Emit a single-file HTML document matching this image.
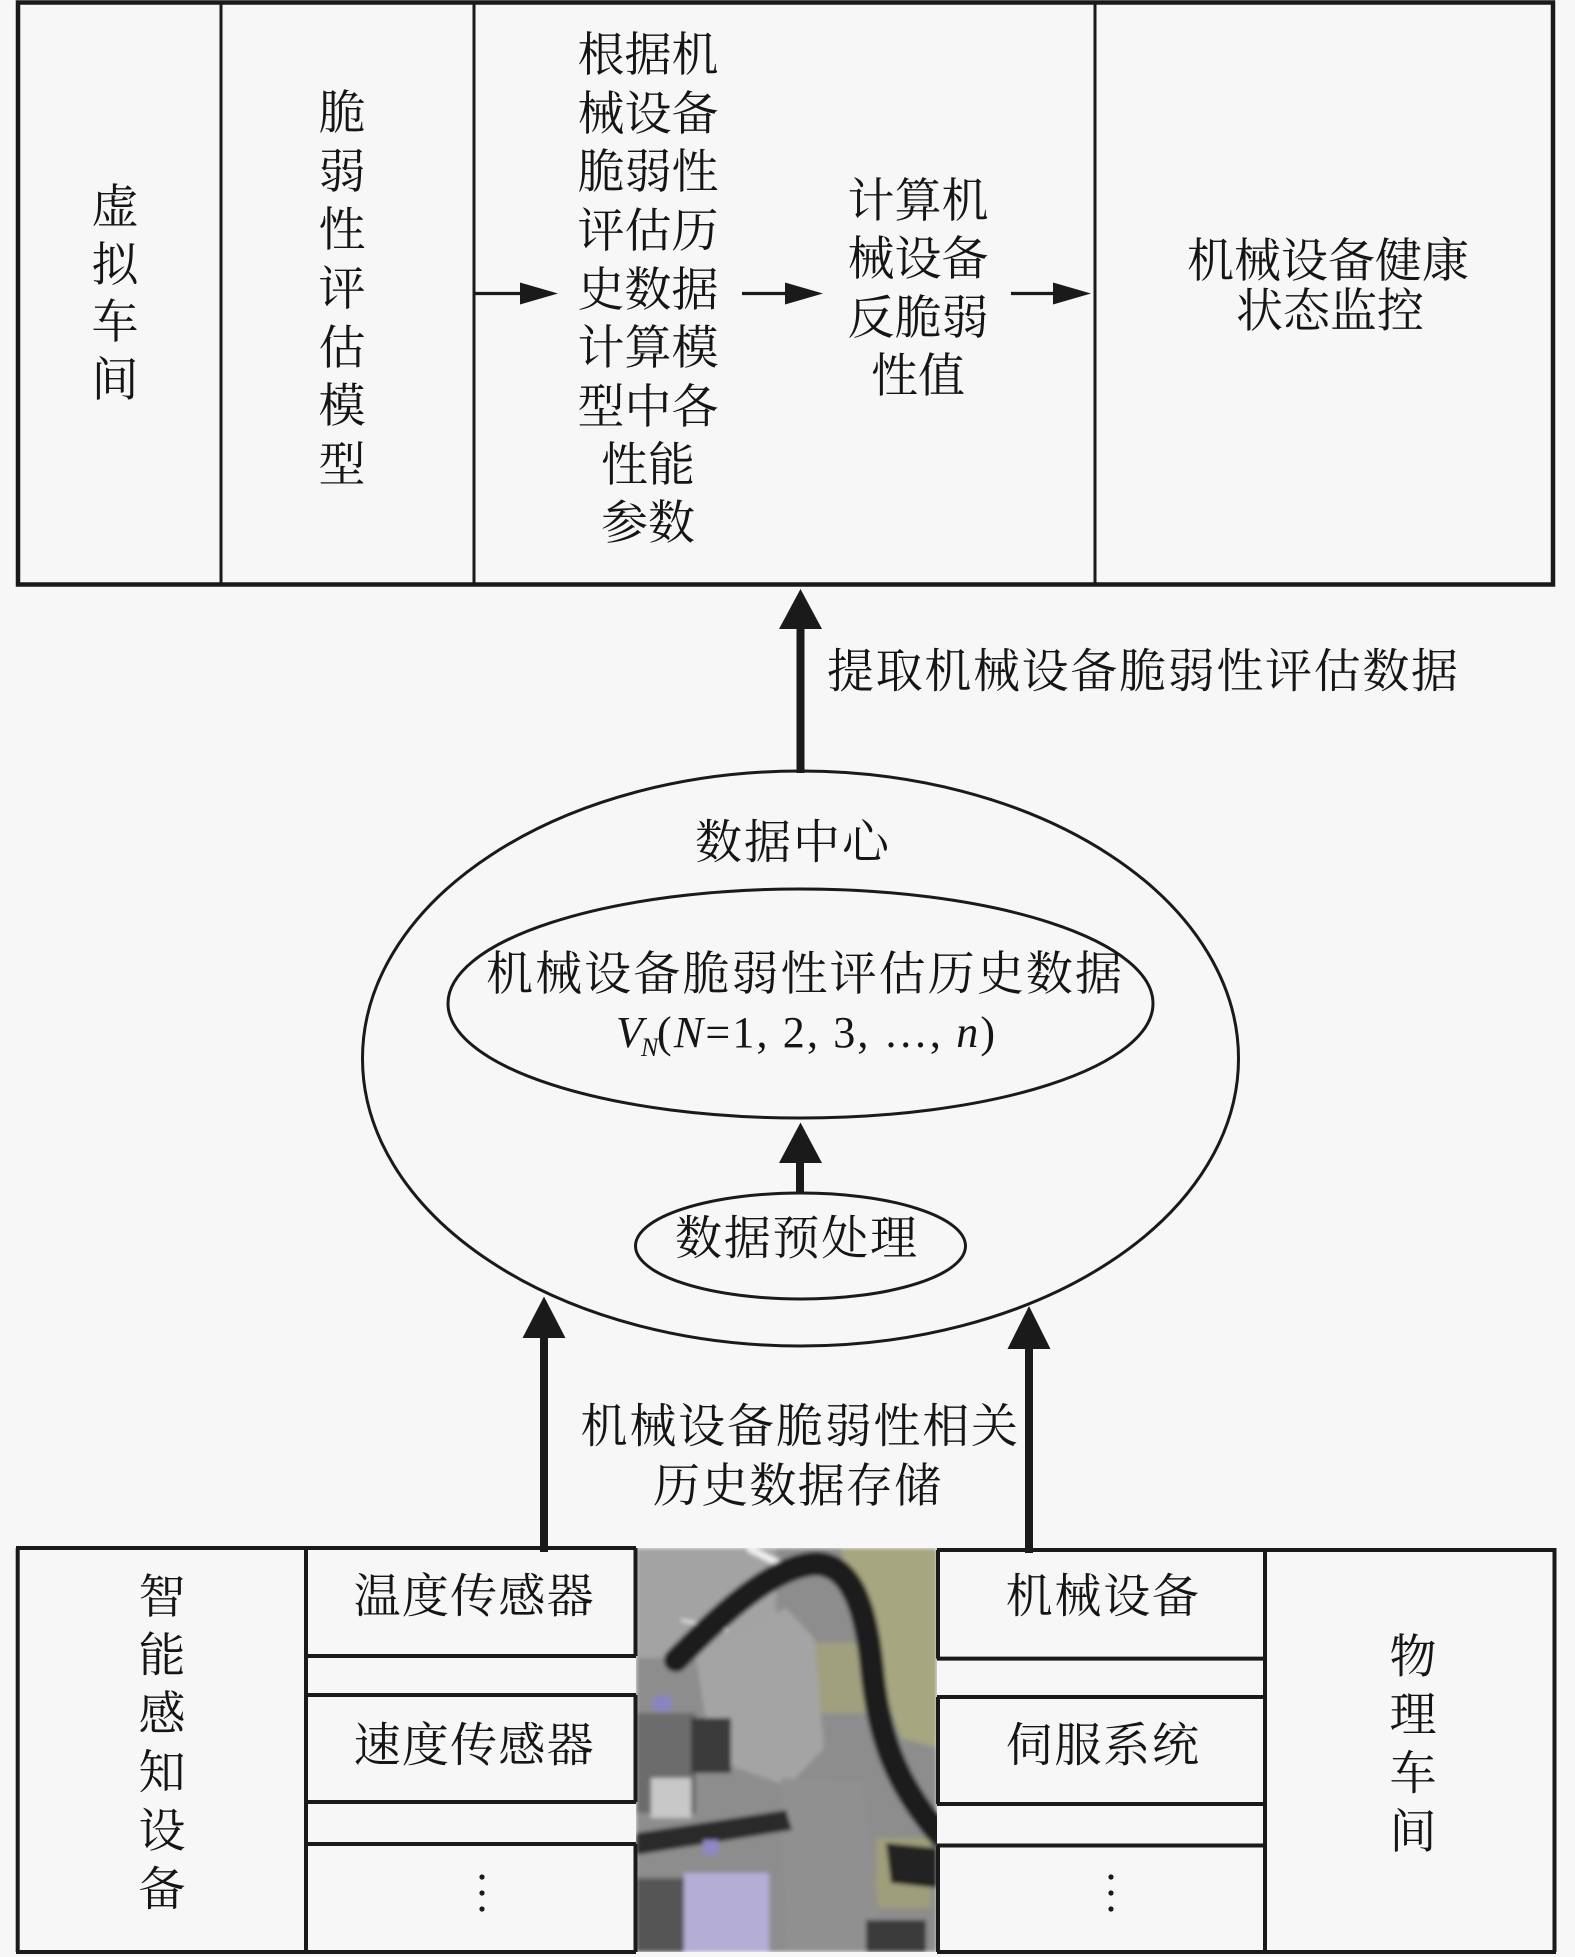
<!DOCTYPE html>
<html>
<head>
<meta charset="utf-8">
<style>
html,body{margin:0;padding:0;background:#f7f7f7;}
body{width:1575px;height:1957px;overflow:hidden;}
svg{display:block;}
.t{font-family:"Liberation Serif","Noto Serif CJK SC",serif;font-size:47px;fill:#151515;}
.m{text-anchor:middle;}
.r{font-family:"Liberation Serif",serif;font-size:44px;fill:#151515;}
.i{font-style:italic;}
</style>
</head>
<body>
<svg width="1575" height="1957" viewBox="0 0 1575 1957" xmlns="http://www.w3.org/2000/svg">
<defs>
<clipPath id="pc"><rect x="0" y="0" width="301" height="404"/></clipPath>
<filter id="bl" x="-5%" y="-5%" width="110%" height="110%"><feGaussianBlur stdDeviation="2.2"/></filter>
</defs>

<!-- ===== TOP BOX ===== -->
<rect x="18" y="2.5" width="1535" height="582" fill="none" stroke="#1a1a1a" stroke-width="4.5"/>
<line x1="221" y1="2" x2="221" y2="585" stroke="#1a1a1a" stroke-width="3"/>
<line x1="474" y1="2" x2="474" y2="585" stroke="#1a1a1a" stroke-width="3"/>
<line x1="1095" y1="2" x2="1095" y2="585" stroke="#1a1a1a" stroke-width="3"/>

<!-- thin arrows -->
<g stroke="#1a1a1a" stroke-width="3.2" fill="#1a1a1a">
<line x1="474" y1="293.5" x2="522" y2="293.5"/>
<polygon points="520,282.5 558,293.5 520,304.5" stroke="none"/>
<line x1="742" y1="293.5" x2="787" y2="293.5"/>
<polygon points="785,282.5 823,293.5 785,304.5" stroke="none"/>
<line x1="1011" y1="293.5" x2="1055" y2="293.5"/>
<polygon points="1053,282.5 1091,293.5 1053,304.5" stroke="none"/>
</g>

<!-- column 1 -->
<text class="t m" x="115" y="223">虚</text>
<text class="t m" x="115" y="281">拟</text>
<text class="t m" x="115" y="338">车</text>
<text class="t m" x="115" y="396">间</text>

<!-- column 2 -->
<text class="t m" x="342" y="129">脆</text>
<text class="t m" x="342" y="188">弱</text>
<text class="t m" x="342" y="246">性</text>
<text class="t m" x="342" y="305">评</text>
<text class="t m" x="342" y="364">估</text>
<text class="t m" x="342" y="422">模</text>
<text class="t m" x="342" y="481">型</text>

<!-- column 3 -->
<text class="t m" x="648" y="71">根据机</text>
<text class="t m" x="648" y="130">械设备</text>
<text class="t m" x="648" y="188">脆弱性</text>
<text class="t m" x="648" y="247">评估历</text>
<text class="t m" x="648" y="306">史数据</text>
<text class="t m" x="648" y="364">计算模</text>
<text class="t m" x="648" y="423">型中各</text>
<text class="t m" x="648" y="481">性能</text>
<text class="t m" x="648" y="539">参数</text>

<!-- column 4 -->
<text class="t m" x="918" y="217">计算机</text>
<text class="t m" x="918" y="275">械设备</text>
<text class="t m" x="918" y="334">反脆弱</text>
<text class="t m" x="918" y="392">性值</text>

<!-- column 5 -->
<text class="t m" x="1328" y="277">机械设备健康</text>
<text class="t m" x="1330" y="327">状态监控</text>

<!-- ===== MIDDLE ===== -->
<rect x="796.5" y="625" width="8" height="148" fill="#1a1a1a"/>
<polygon points="779,629 800.5,589 822,629" fill="#1a1a1a"/>
<text class="t" x="827" y="687.5" textLength="631" lengthAdjust="spacing">提取机械设备脆弱性评估数据</text>

<ellipse cx="800.5" cy="1058.5" rx="438" ry="287.5" fill="none" stroke="#1a1a1a" stroke-width="3"/>
<ellipse cx="800.5" cy="1003.5" rx="352.5" ry="114.5" fill="none" stroke="#1a1a1a" stroke-width="3"/>
<ellipse cx="800.5" cy="1246" rx="165" ry="53" fill="none" stroke="#1a1a1a" stroke-width="3"/>

<text class="t" x="695" y="858.5" textLength="194" lengthAdjust="spacing">数据中心</text>
<text class="t" x="486" y="990" textLength="636" lengthAdjust="spacing">机械设备脆弱性评估历史数据</text>

<!-- V_N line -->
<text class="r i" x="616" y="1047">V</text>
<text class="r i" x="641" y="1056" style="font-size:26px">N</text>
<text class="r" x="657" y="1047" textLength="338" lengthAdjust="spacing">(<tspan class="i">N</tspan>=1, 2, 3, …, <tspan class="i">n</tspan>)</text>

<rect x="796" y="1158" width="8" height="36" fill="#1a1a1a"/>
<polygon points="779,1163 800.5,1122.5 822,1163" fill="#1a1a1a"/>
<text class="t" x="675" y="1254.5" textLength="242" lengthAdjust="spacing">数据预处理</text>

<rect x="540" y="1334" width="8" height="218" fill="#1a1a1a"/>
<polygon points="522.5,1338 544,1296.5 565.5,1338" fill="#1a1a1a"/>
<rect x="1025" y="1345" width="8" height="208" fill="#1a1a1a"/>
<polygon points="1007.5,1349 1029,1306 1050.5,1349" fill="#1a1a1a"/>

<text class="t" x="580.5" y="1442.5" textLength="437.5" lengthAdjust="spacing">机械设备脆弱性相关</text>
<text class="t" x="653" y="1502" textLength="288" lengthAdjust="spacing">历史数据存储</text>

<!-- ===== BOTTOM ===== -->
<g transform="translate(636,1548)" clip-path="url(#pc)">
<g filter="url(#bl)">
<rect x="0" y="0" width="301" height="404" fill="#8d8d8d"/>
<rect x="0" y="0" width="140" height="110" fill="#a3a3a3"/>
<polygon points="205,0 301,0 301,200 265,190 240,120 215,60" fill="#a6a680"/>
<rect x="150" y="95" width="80" height="70" fill="#a3a37d" opacity="0.85"/>
<rect x="240" y="290" width="55" height="70" fill="#9e9e7a"/>
<line x1="112" y1="0" x2="152" y2="20" stroke="#efefef" stroke-width="7"/>
<line x1="45" y1="72" x2="92" y2="82" stroke="#dcdcdc" stroke-width="3"/>
<polygon points="60,110 150,60 178,90 188,200 152,238 95,218 70,172" fill="#a4a4a4"/>
<polygon points="145,230 226,235 248,404 150,404" fill="#909090"/>
<rect x="0" y="165" width="60" height="100" fill="#6c6c6c"/>
<rect x="55" y="170" width="40" height="55" fill="#3a3a3a"/>
<rect x="15" y="230" width="40" height="40" fill="#c8c8c8"/>
<polygon points="0,285 150,262 156,282 0,307" fill="#2a2a2a"/>
<rect x="0" y="330" width="48" height="74" fill="#555"/>
<rect x="48" y="325" width="85" height="79" fill="#b4aed6"/>
<rect x="17" y="148" width="18" height="15" fill="#8984c2"/>
<rect x="67" y="292" width="15" height="15" fill="#8e88c4"/>
<polygon points="250,295 301,300 301,340 255,335" fill="#222"/>
<rect x="230" y="372" width="60" height="32" fill="#3a3a3a"/>
<path d="M40 112 C 80 72, 130 22, 175 16 C 215 12, 230 60, 236 120 C 242 182, 256 232, 305 288" fill="none" stroke="#1d1d1d" stroke-width="24" stroke-linecap="round"/>
</g>
</g>

<g stroke="#1a1a1a" stroke-width="4" fill="none">
<line x1="17.7" y1="1548" x2="17.7" y2="1952"/>
<line x1="16" y1="1548" x2="636" y2="1548"/>
<line x1="16" y1="1952" x2="636" y2="1952"/>
<line x1="306" y1="1548" x2="306" y2="1952"/>
<line x1="635.5" y1="1548" x2="635.5" y2="1656"/>
<line x1="635.5" y1="1695" x2="635.5" y2="1802"/>
<line x1="635.5" y1="1844" x2="635.5" y2="1952"/>
<line x1="306" y1="1656" x2="636" y2="1656"/>
<line x1="306" y1="1695" x2="636" y2="1695"/>
<line x1="306" y1="1802" x2="636" y2="1802"/>
<line x1="306" y1="1844" x2="636" y2="1844"/>
<line x1="937" y1="1550" x2="1556" y2="1550"/>
<line x1="937" y1="1952" x2="1556" y2="1952"/>
<line x1="938" y1="1550" x2="938" y2="1658.6"/>
<line x1="938" y1="1697" x2="938" y2="1804"/>
<line x1="938" y1="1845.5" x2="938" y2="1952"/>
<line x1="1265" y1="1548" x2="1265" y2="1952"/>
<line x1="1554.5" y1="1548" x2="1554.5" y2="1952"/>
<line x1="937" y1="1658.6" x2="1265" y2="1658.6"/>
<line x1="937" y1="1697" x2="1265" y2="1697"/>
<line x1="937" y1="1804" x2="1265" y2="1804"/>
<line x1="937" y1="1845.5" x2="1265" y2="1845.5"/>
</g>

<text class="t m" x="162" y="1613">智</text>
<text class="t m" x="162" y="1671.5">能</text>
<text class="t m" x="162" y="1730">感</text>
<text class="t m" x="162" y="1788.5">知</text>
<text class="t m" x="162" y="1847">设</text>
<text class="t m" x="162" y="1905.5">备</text>

<text class="t" x="353.6" y="1612.5" textLength="240" lengthAdjust="spacing">温度传感器</text>
<text class="t" x="353.6" y="1761.5" textLength="240" lengthAdjust="spacing">速度传感器</text>
<circle cx="482" cy="1877" r="2.6" fill="#1a1a1a"/>
<circle cx="482" cy="1893" r="2.6" fill="#1a1a1a"/>
<circle cx="482" cy="1909" r="2.6" fill="#1a1a1a"/>

<text class="t" x="1005.6" y="1612.5" textLength="193.4" lengthAdjust="spacing">机械设备</text>
<text class="t" x="1005.6" y="1761.5" textLength="193.4" lengthAdjust="spacing">伺服系统</text>
<circle cx="1111" cy="1877" r="2.6" fill="#1a1a1a"/>
<circle cx="1111" cy="1893" r="2.6" fill="#1a1a1a"/>
<circle cx="1111" cy="1909" r="2.6" fill="#1a1a1a"/>

<text class="t m" x="1413" y="1673">物</text>
<text class="t m" x="1413" y="1731">理</text>
<text class="t m" x="1413" y="1789.5">车</text>
<text class="t m" x="1413" y="1848">间</text>
</svg>
</body>
</html>
